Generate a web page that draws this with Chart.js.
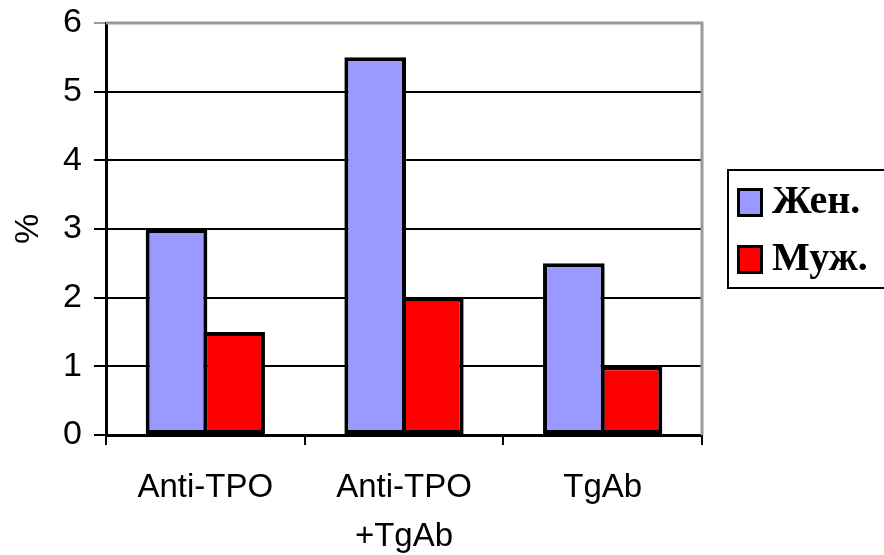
<!DOCTYPE html>
<html>
<head>
<meta charset="utf-8">
<script src="https://cdn.jsdelivr.net/npm/chart.js@4/dist/chart.umd.min.js"></script>
<style>
  html, body { margin: 0; padding: 0; background: #fff; }
  #wrap { position: relative; width: 884px; height: 555px; }
</style>
</head>
<body>
<div id="wrap"><canvas id="c" width="884" height="555"></canvas></div>
<script>
// data
const categories = [['Anti-TPO'], ['Anti-TPO', '+TgAb'], ['TgAb']];
const seriesNames = ['Жен.', 'Муж.'];
const women = [3, 5.5, 2.5];
const men = [1.5, 2, 1];
const yTicks = [0, 1, 2, 3, 4, 5, 6];

const BLUE = '#9999FF', RED = '#FF0000';
const SANS = '"Liberation Sans", Arial, sans-serif';
const SERIF = '"Liberation Serif", "Times New Roman", serif';

// plot frame (gray top/right) + boxed legend on the right
const frame = {
  id: 'frame',
  afterDraw(chart) {
    const { ctx, chartArea: a } = chart;
    ctx.save();
    ctx.strokeStyle = '#999';
    ctx.lineWidth = 3;
    ctx.beginPath();
    ctx.moveTo(a.left, a.top);
    ctx.lineTo(a.right, a.top);
    ctx.lineTo(a.right, a.bottom);
    ctx.stroke();

    // legend box
    ctx.strokeStyle = '#000';
    ctx.lineWidth = 2;
    ctx.strokeRect(728, 170, 170, 118);
    chart.data.datasets.forEach((ds, i) => {
      const y = 188 + i * 57;
      ctx.fillStyle = '#000';
      ctx.fillRect(737, y, 26, 29);
      ctx.fillStyle = ds.backgroundColor;
      ctx.fillRect(740, y + 3, 20, 23);
      ctx.fillStyle = '#000';
      ctx.font = 'bold 40px ' + SERIF;
      ctx.textBaseline = 'middle';
      ctx.textAlign = 'left';
      ctx.fillText(ds.label, 772, y + 15);
    });
    ctx.restore();
  }
};

new Chart(document.getElementById('c'), {
  type: 'bar',
  data: {
    labels: categories,
    datasets: [
      { label: seriesNames[0], data: women, backgroundColor: BLUE, borderColor: '#000', borderWidth: 4, borderSkipped: false },
      { label: seriesNames[1], data: men, backgroundColor: RED, borderColor: '#000', borderWidth: 4, borderSkipped: false },
    ],
  },
  options: {
    responsive: false,
    animation: false,
    devicePixelRatio: 1,
    categoryPercentage: 0.58,
    barPercentage: 1.07,
    layout: { padding: { top: 23, right: 182, left: 0, bottom: 0 } },
    plugins: { legend: { display: false }, tooltip: { enabled: false } },
    scales: {
      x: {
        offset: true,
        grid: { display: true, drawOnChartArea: false, offset: true, color: '#000', lineWidth: 2, tickLength: 10 },
        border: { color: '#000', width: 3 },
        ticks: { color: '#000', font: { family: SANS, size: 33, lineHeight: 1.5 }, padding: 18, maxRotation: 0, autoSkip: false },
        afterFit(s) { s.height = 120; s.paddingRight = 0; s.paddingLeft = 0; },
      },
      y: {
        min: 0, max: 6,
        afterBuildTicks(s) { s.ticks = yTicks.map(v => ({ value: v })); },
        grid: {
          color: (c) => (c.tick && c.tick.value === 6 ? '#999' : '#000'),
          lineWidth: 2, tickLength: 12,
        },
        border: { color: '#000', width: 3 },
        ticks: { color: '#000', font: { family: SANS, size: 34 }, padding: 12 },
        title: { display: true, text: '%', color: '#000', font: { family: SANS, size: 34 }, padding: { top: 8, bottom: 0 } },
        afterFit(s) { s.width = 106; s.paddingTop = 0; s.paddingBottom = 0; },
      },
    },
  },
  plugins: [frame],
});
</script>
</body>
</html>
